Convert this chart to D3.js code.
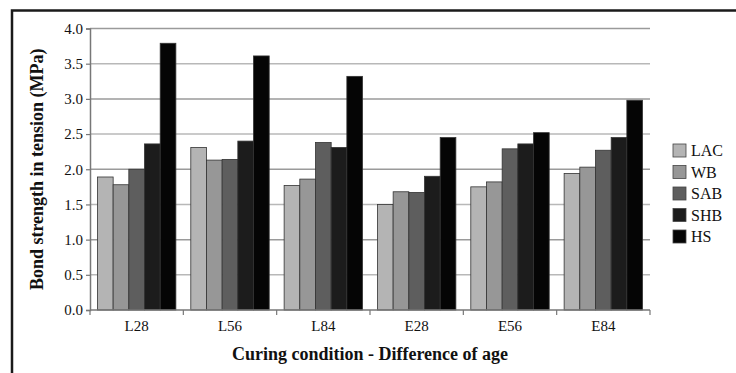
<!DOCTYPE html>
<html lang="en">
<head>
<meta charset="UTF-8">
<title>Bond strength</title>
<script src="https://d3js.org/d3.v7.min.js"></script>
<style>
  body { margin: 0; background: #fff; }
</style>
</head>
<body>
<div id="chart"></div>
<script>
// categories and series
var categories = ["L28", "L56", "L84", "E28", "E56", "E84"];
var series = ["LAC", "WB", "SAB", "SHB", "HS"];
var LAC = [1.89, 2.31, 1.77, 1.50, 1.75, 1.94];
var WB  = [1.78, 2.13, 1.86, 1.68, 1.82, 2.03];
var SAB = [2.00, 2.14, 2.38, 1.67, 2.29, 2.27];
var SHB = [2.36, 2.40, 2.31, 1.90, 2.36, 2.45];
var HS  = [3.79, 3.61, 3.32, 2.45, 2.52, 2.98];
var yTicks = [0, 0.5, 1, 1.5, 2, 2.5, 3, 3.5, 4];
var colors = ["#b4b4b4", "#979797", "#5e5e5e", "#1c1c1c", "#050505"];

var values = [LAC, WB, SAB, SHB, HS];
var serif = "'Liberation Serif', 'Times New Roman', Times, serif";

var W = 736, H = 373;
var margin = {top: 28.5, right: 86, bottom: 63, left: 90},
    width = W - margin.left - margin.right,
    height = H - margin.top - margin.bottom;

var svgRoot = d3.select("#chart").append("svg")
    .attr("width", W).attr("height", H)
    .style("font-family", serif);

// outer frame
svgRoot.append("rect")
    .attr("x", 12).attr("y", 10.5)
    .attr("width", W + 20).attr("height", H + 20)
    .attr("fill", "none").attr("stroke", "#1a1a1a").attr("stroke-width", 2.5);

var svg = svgRoot.append("g")
    .attr("transform", "translate(" + margin.left + "," + margin.top + ")");

var x0 = d3.scaleBand().domain(categories).range([0, width]).paddingInner(0.16).paddingOuter(0.08);
var x1 = d3.scaleBand().domain(series).range([0, x0.bandwidth()]);
var xb = d3.scaleBand().domain(categories).range([0, width]);
var y = d3.scaleLinear().domain([0, 4]).range([height, 0]);

// gridlines
svg.append("g").selectAll("line")
  .data(yTicks.slice(1))
  .enter().append("line")
    .attr("x1", 0).attr("x2", width)
    .attr("y1", function(d) { return y(d); })
    .attr("y2", function(d) { return y(d); })
    .attr("stroke", function(d) { return d % 1 === 0 ? "#9a9a9a" : "#b8b8b8"; })
    .attr("stroke-width", 1.5);

// bars
var groups = svg.selectAll(".grp")
  .data(categories)
  .enter().append("g")
    .attr("transform", function(d) { return "translate(" + x0(d) + ",0)"; });

groups.selectAll("rect")
  .data(function(c, i) { return series.map(function(s, j) { return {s: s, v: values[j][i], j: j}; }); })
  .enter().append("rect")
    .attr("x", function(d) { return x1(d.s); })
    .attr("y", function(d) { return y(d.v); })
    .attr("width", x1.bandwidth())
    .attr("height", function(d) { return height - y(d.v); })
    .attr("fill", function(d) { return colors[d.j]; })
    .attr("stroke", "#333")
    .attr("stroke-width", 0.8);

// y axis
var yAxis = svg.append("g")
    .call(d3.axisLeft(y).tickValues(yTicks).tickFormat(d3.format(".1f")).tickSize(4).tickPadding(3))
    .attr("font-family", serif);
yAxis.select(".domain").attr("stroke", "#777").attr("stroke-width", 1.5);
yAxis.selectAll(".tick line").attr("stroke", "#777").attr("stroke-width", 1.2);
yAxis.selectAll("text").style("font-size", "15px").style("font-family", serif).attr("fill", "#111");

// x axis
var xAxisG = svg.append("g").attr("transform", "translate(0," + height + ")");
xAxisG.append("line").attr("x1", 0).attr("x2", width)
    .attr("stroke", "#777").attr("stroke-width", 1.5);
xAxisG.selectAll(".xt")
  .data(categories.concat(["end"]))
  .enter().append("line")
    .attr("x1", function(d, i) { return i < categories.length ? xb(d) : width; })
    .attr("x2", function(d, i) { return i < categories.length ? xb(d) : width; })
    .attr("y1", 0).attr("y2", 5)
    .attr("stroke", "#777").attr("stroke-width", 1.2);
xAxisG.selectAll(".xl")
  .data(categories)
  .enter().append("text")
    .attr("x", function(d) { return xb(d) + xb.bandwidth() / 2; })
    .attr("y", 21)
    .attr("text-anchor", "middle")
    .attr("fill", "#111")
    .style("font-family", serif)
    .style("font-size", "15px")
    .text(function(d) { return d; });

// axis titles
svgRoot.append("text")
    .attr("x", margin.left + width / 2)
    .attr("y", 360)
    .attr("text-anchor", "middle")
    .attr("fill", "#111")
    .style("font-family", serif)
    .style("font-size", "18px").style("font-weight", "bold")
    .text("Curing condition - Difference of age");

svgRoot.append("text")
    .attr("transform", "translate(43," + (margin.top + height / 2) + ") rotate(-90)")
    .attr("text-anchor", "middle")
    .attr("fill", "#111")
    .style("font-family", serif)
    .style("font-size", "18px").style("font-weight", "bold")
    .text("Bond strength in tension (MPa)");

// legend
var legend = svgRoot.append("g").attr("transform", "translate(673,144)");
var li = legend.selectAll("g")
  .data(series)
  .enter().append("g")
    .attr("transform", function(d, i) { return "translate(0," + (i * 21.5) + ")"; });
li.append("rect")
    .attr("width", 13).attr("height", 13)
    .attr("fill", function(d, i) { return colors[i]; })
    .attr("stroke", "#444").attr("stroke-width", 0.8);
li.append("text")
    .attr("x", 18).attr("y", 12)
    .attr("fill", "#111")
    .style("font-family", serif)
    .style("font-size", "16px")
    .text(function(d) { return d; });
</script>
</body>
</html>
